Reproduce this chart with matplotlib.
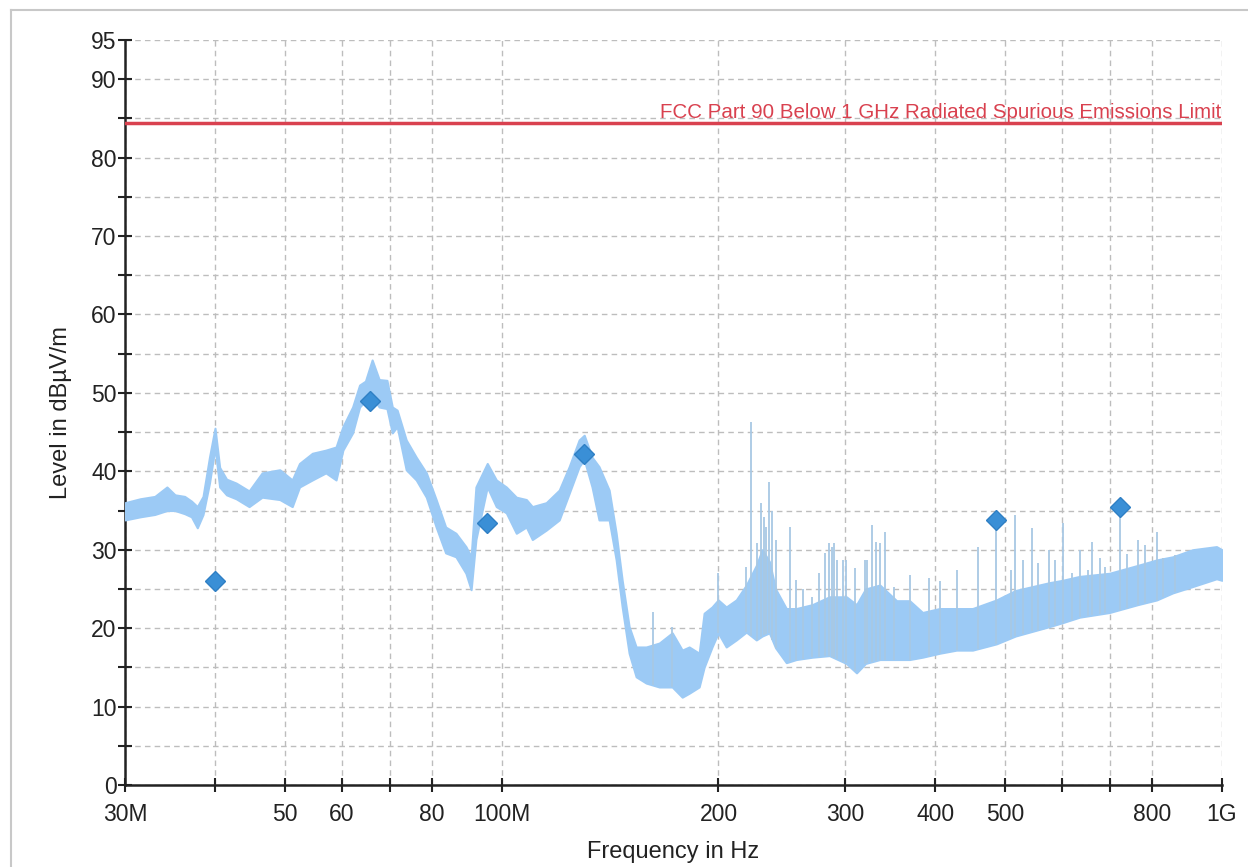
import numpy as np
import matplotlib
matplotlib.use('Agg')
import matplotlib.pyplot as plt
from matplotlib.lines import Line2D

# Огибающая измеренного спектра: частота (МГц), верхняя и нижняя граница (дБмкВ/м)
freq_mhz = [30.0, 31.5, 33.0, 34.3, 35.2, 36.3, 37.1, 37.8, 38.5, 39.3, 40.0, 40.6,
            41.5, 42.8, 44.6, 46.5, 49.2, 51.2, 52.4, 54.6, 57.0, 58.9, 60.2, 62.1,
            63.5, 64.7, 66.1, 67.6, 69.3, 70.5, 71.6, 73.7, 76.1, 78.6, 81.1, 83.6,
            86.4, 89.2, 90.7, 92.1, 95.5, 98.3, 101.5, 104.8, 108.2, 110.3, 115.3,
            120.2, 124.1, 128.1, 130.2, 133.5, 136.5, 141.0, 144.2, 147.0, 150.3,
            153.7, 158.7, 165.5, 172.5, 178.1, 182.1, 188.0, 191.0, 195.9, 199.8,
            205.0, 211.7, 218.6, 225.7, 230.0, 235.3, 240.0, 248.4, 256.4, 270.0,
            285.1, 301.0, 310.9, 320.0, 335.0, 353.4, 368.4, 384.0, 405.4,
            428.0, 450.5, 486.3, 516.8, 545.6, 576.0, 600.6, 634.2, 698.0, 763.8,
            811.6, 854.3, 910.0, 982.5, 1000.0]
level_upper = [36.0, 36.5, 36.8, 38.0, 37.0, 36.8, 36.2, 35.5, 36.8, 41.8, 45.5, 40.5,
               39.0, 38.5, 37.5, 39.8, 40.2, 38.9, 41.0, 42.3, 42.7, 43.1, 45.7, 48.2,
               51.0, 51.5, 54.2, 51.7, 51.6, 48.2, 47.8, 44.0, 41.8, 39.8, 36.4, 32.9,
               32.1, 30.4, 29.1, 38.0, 41.0, 38.9, 38.0, 36.7, 36.4, 35.5, 36.0,
               37.6, 40.6, 44.0, 44.6, 41.8, 40.6, 37.6, 32.1, 26.1, 20.2,
               17.6, 17.6, 18.1, 19.4, 17.2, 17.6, 16.8, 21.9, 22.7, 23.6,
               22.7, 23.6, 25.5, 28.0, 30.0, 28.5, 25.0, 22.5, 22.5, 23.0,
               24.0, 24.0, 23.0, 25.0, 25.5, 23.5, 23.5, 22.0, 22.5,
               22.5, 22.5, 23.6, 24.8, 25.3, 25.8, 26.1, 26.6, 27.0, 28.0,
               28.7, 29.1, 30.0, 30.4, 30.0]
level_lower = [33.8, 34.2, 34.5, 35.0, 35.0, 34.6, 34.2, 32.8, 34.5, 38.5, 43.0, 38.0,
               37.0, 36.5, 35.5, 36.7, 36.4, 35.5, 38.0, 38.9, 39.8, 38.9, 42.7, 44.9,
               48.2, 49.0, 49.5, 48.2, 48.0, 44.9, 45.7, 40.2, 38.9, 36.7, 32.9, 29.6,
               29.1, 27.0, 24.9, 31.3, 38.0, 35.5, 34.7, 32.1, 32.9, 31.3, 32.5,
               33.8, 37.2, 40.6, 41.5, 38.0, 33.8, 33.8, 28.7, 22.7, 16.8,
               13.8, 13.0, 12.5, 12.5, 11.2, 11.7, 12.5, 15.0, 17.6, 19.4,
               17.6, 18.5, 19.5, 18.5, 19.0, 19.4, 17.5, 15.6, 16.0, 16.3,
               16.5, 15.5, 14.3, 15.5, 16.0, 16.0, 16.0, 16.3, 16.8,
               17.2, 17.2, 18.0, 19.0, 19.6, 20.2, 20.7, 21.4, 22.0, 23.0,
               23.6, 24.5, 25.3, 26.3, 26.1]

# Узкие выбросы (частота МГц, пик дБмкВ/м)
spike_mhz = [162.3, 172.5, 199.8, 218.6, 222.1, 226.0, 229.3, 231.5, 233.0, 235.3,
             237.5, 240.0, 251.6, 256.4, 262.0, 270.0, 276.1, 281.0, 285.1, 287.5,
             289.7, 292.5, 298.0, 301.0, 309.0, 319.5, 322.0, 327.2, 331.0, 334.7,
             340.1, 350.0, 368.4, 392.0, 405.4, 428.0, 457.7, 486.3, 510.0, 516.8,
             530.0, 545.6, 555.0, 576.0, 586.0, 600.6, 619.0, 634.2, 651.0, 661.0,
             676.0, 687.0, 721.0, 737.0, 763.8, 782.0, 811.6, 828.0, 860.0]
spike_level = [22.1, 20.2, 27.0, 27.8, 46.3, 30.9, 36.0, 34.2, 32.9, 38.6,
               35.0, 31.3, 32.9, 26.1, 25.0, 24.0, 27.0, 29.6, 30.9, 30.4,
               30.9, 28.7, 28.7, 28.7, 27.7, 28.7, 28.7, 33.2, 31.0, 30.9,
               32.3, 25.3, 26.8, 26.4, 26.0, 27.4, 30.4, 33.8, 27.4, 34.4,
               28.7, 32.8, 28.3, 30.0, 28.7, 33.4, 27.0, 30.0, 27.4, 31.0,
               29.0, 27.8, 35.5, 29.5, 31.2, 30.6, 32.3, 29.0, 29.3]

# Маркеры итоговых измерений
marker_mhz = [40.0, 65.7, 95.5, 130.1, 485.0, 721.0]
marker_level = [26.0, 49.0, 33.4, 42.2, 33.8, 35.5]

limit_level = 84.4
limit_label = 'FCC Part 90 Below 1 GHz Radiated Spurious Emissions Limit'

xtick_mhz = [30, 40, 50, 60, 70, 80, 100, 200, 300, 400, 500, 600, 700, 800, 1000]
xtick_labels = ['30M', '', '50', '60', '', '80', '100M', '200', '300', '400', '500',
                '', '', '800', '1G']
ytick_values = list(range(0, 96, 5))
ytick_labels = [str(v) if (v % 10 == 0 or v == 95) else '' for v in ytick_values]

plt.rcParams['font.family'] = ['Liberation Sans', 'DejaVu Sans']

trace_color = '#9ccaf5'
spike_color = '#a8c8e4'
marker_color = '#3a8fd6'
limit_color = '#d9414f'
grid_color = '#bdbdbd'
text_color = '#222222'

fig = plt.figure(figsize=(12.48, 8.67), dpi=100)
ax = fig.add_axes([125 / 1248, 82 / 867, 1097 / 1248, 745 / 867])

# Рамка вокруг картинки (видны только левый и верхний края)
fig.add_artist(Line2D([11 / 1248, 11 / 1248], [0, 1 - 10 / 867],
                      transform=fig.transFigure, color='#c8c8c8', lw=1.5))
fig.add_artist(Line2D([11 / 1248, 1], [1 - 10 / 867, 1 - 10 / 867],
                      transform=fig.transFigure, color='#c8c8c8', lw=1.5))

# Спектр: полоса между огибающими
f_hz = np.array(freq_mhz) * 1e6
ax.fill_between(f_hz, level_lower, level_upper, color=trace_color, lw=1.5,
                edgecolor=trace_color, zorder=3)

# Выбросы от нижней огибающей до пика
s_hz = np.array(spike_mhz) * 1e6
s_base = np.interp(np.log10(s_hz), np.log10(f_hz), level_lower)
ax.vlines(s_hz, s_base, spike_level, color=spike_color, lw=1.3, zorder=3)

# Линия нормы
ax.axhline(limit_level, color=limit_color, lw=2.5, zorder=4)
ax.text(0.999e9, limit_level + 0.2, limit_label, color=limit_color, fontsize=14.8,
        ha='right', va='bottom', zorder=5)

ax.plot(np.array(marker_mhz) * 1e6, marker_level, linestyle='none', marker='D',
        markersize=10.5, color=marker_color, markeredgecolor='#2f7fc4', zorder=6)

ax.set_xscale('log')
ax.set_xlim(30e6, 1e9)
ax.set_ylim(0, 95)
ax.set_xticks(np.array(xtick_mhz) * 1e6)
ax.set_xticklabels(xtick_labels)
ax.xaxis.set_minor_locator(matplotlib.ticker.NullLocator())
ax.set_yticks(ytick_values)
ax.set_yticklabels(ytick_labels)

ax.tick_params(axis='both', direction='inout', length=10, width=1.5,
               labelsize=16.5, color=text_color, labelcolor=text_color)
ax.tick_params(axis='x', pad=8)
ax.tick_params(axis='y', pad=1)

for side in ['top', 'right']:
    ax.spines[side].set_visible(False)
for side in ['left', 'bottom']:
    ax.spines[side].set_linewidth(1.8)
    ax.spines[side].set_color(text_color)

ax.grid(True, color=grid_color, linestyle=(0, (4, 3)), lw=1.0, zorder=0)
ax.set_axisbelow(True)

ax.set_xlabel('Frequency in Hz', fontsize=17, color=text_color, labelpad=11)
ax.set_ylabel('Level in dBµV/m', fontsize=17, color=text_color, labelpad=14)

fig.savefig('out.png', dpi=100)
